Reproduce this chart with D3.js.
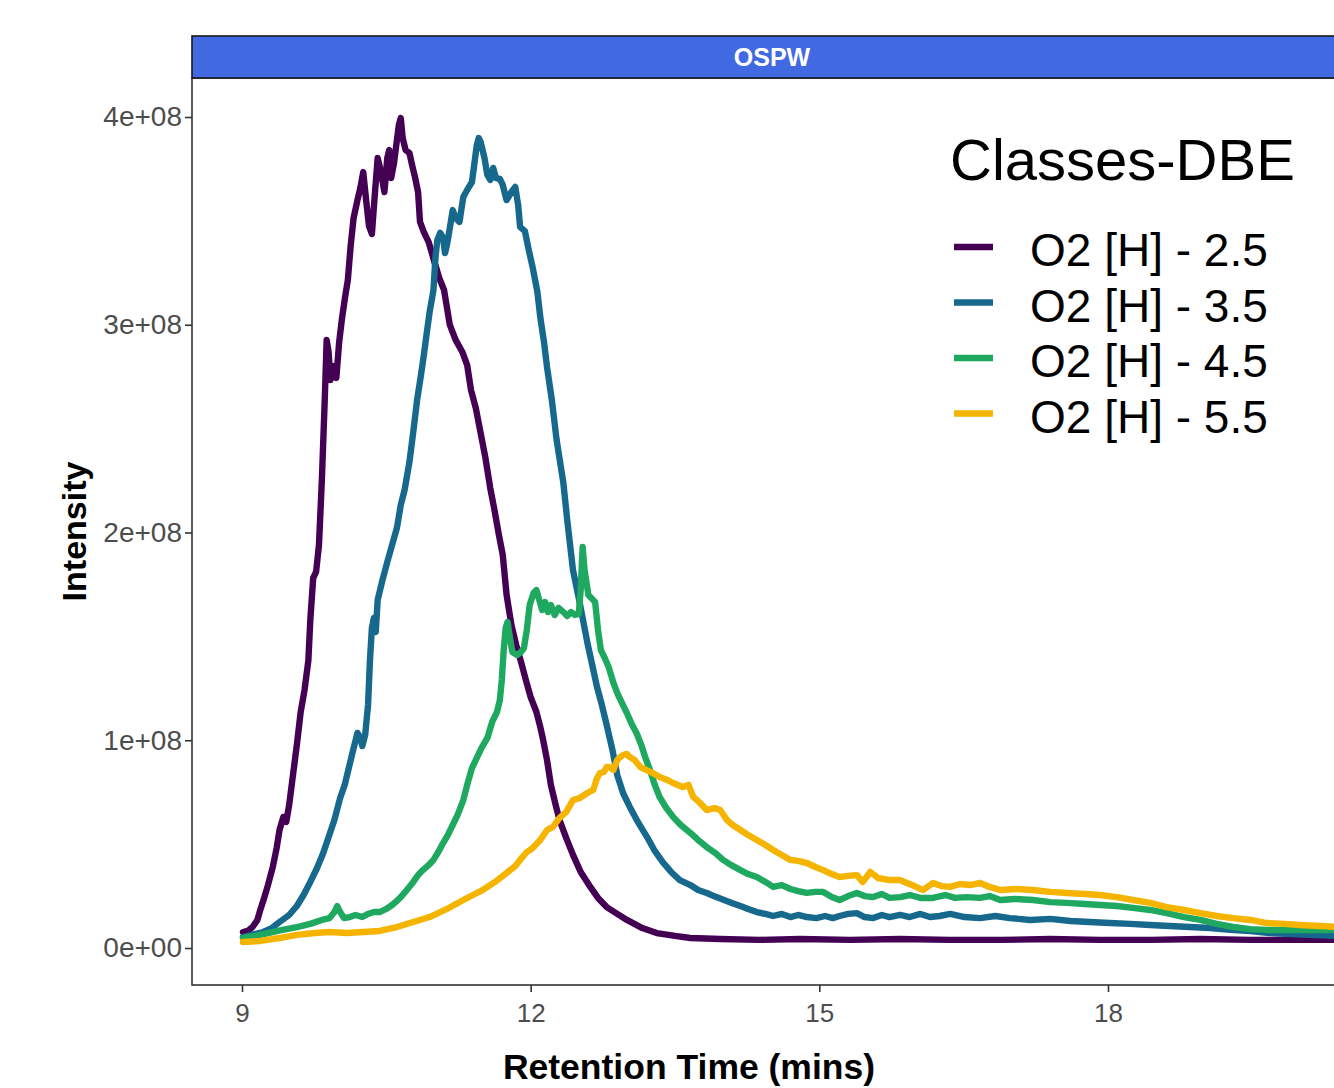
<!DOCTYPE html>
<html>
<head>
<meta charset="utf-8">
<title>OSPW – O2 classes by DBE</title>
<script src="https://cdn.jsdelivr.net/npm/d3@7/dist/d3.min.js"></script>
<style>
  html, body { margin: 0; padding: 0; background: #ffffff; }
  svg { display: block; font-family: "Liberation Sans", Arial, Helvetica, sans-serif; }
</style>
</head>
<body>
<svg id="chart" width="1334" height="1088"></svg>
<script>
// ---- data -------------------------------------------------------------
// Retention time (min) and intensity (in units of 1e8) for each O2 class.
const INTENSITY_UNIT = 1e8;

const seriesNames = ["O2 [H] - 2.5", "O2 [H] - 3.5", "O2 [H] - 4.5", "O2 [H] - 5.5"];
const seriesColors = ["#440154", "#16698C", "#1FA85F", "#F5B400"];

const time25 = [9.01,9.06,9.11,9.16,9.19,9.23,9.27,9.32,9.36,9.39,9.43,9.46,9.49,9.53,9.57,9.61,9.65,9.69,9.71,9.74,
  9.77,9.80,9.83,9.86,9.88,9.90,9.92,9.95,9.98,10.01,10.04,10.07,10.10,10.13,10.16,10.20,10.23,10.26,10.29,10.32,
  10.35,10.38,10.41,10.44,10.48,10.51,10.53,10.55,10.58,10.61,10.63,10.65,10.67,10.70,10.74,10.77,10.80,10.83,10.85,10.89,
  10.94,11.00,11.05,11.10,11.16,11.22,11.29,11.34,11.38,11.43,11.47,11.53,11.58,11.62,11.67,11.71,11.75,11.80,11.85,11.90,
  11.95,12.00,12.06,12.10,12.13,12.17,12.21,12.26,12.30,12.37,12.44,12.52,12.62,12.70,12.79,12.90,13.00,13.16,13.31,13.50,
  13.66,13.97,14.38,14.80,15.32,15.84,16.36,16.88,17.40,17.92,18.44,18.96,19.48,20.00,20.41];
const intensity25 = [0.077,0.082,0.101,0.135,0.183,0.241,0.303,0.390,0.481,0.568,0.631,0.607,0.688,0.833,0.977,1.136,1.242,1.386,1.579,1.781,
  1.810,1.940,2.253,2.638,2.927,2.869,2.734,2.801,2.744,2.917,3.033,3.129,3.215,3.384,3.514,3.600,3.658,3.735,3.600,3.475,
  3.437,3.625,3.803,3.745,3.639,3.803,3.841,3.706,3.779,3.889,3.961,3.995,3.899,3.841,3.827,3.764,3.706,3.639,3.495,3.446,
  3.398,3.302,3.225,3.167,2.999,2.927,2.869,2.806,2.686,2.599,2.503,2.359,2.214,2.118,1.988,1.892,1.699,1.555,1.458,1.377,
  1.290,1.208,1.136,1.064,1.001,0.905,0.785,0.688,0.616,0.529,0.448,0.366,0.294,0.241,0.197,0.164,0.135,0.096,0.072,0.058,
  0.048,0.043,0.039,0.043,0.039,0.043,0.039,0.039,0.043,0.039,0.039,0.043,0.039,0.039,0.039];

const time35 = [9.01,9.10,9.22,9.31,9.39,9.49,9.57,9.64,9.71,9.78,9.84,9.89,9.96,10.02,10.07,10.11,10.15,10.20,10.23,10.25,
  10.28,10.31,10.33,10.35,10.37,10.39,10.41,10.46,10.51,10.56,10.61,10.65,10.69,10.74,10.78,10.82,10.86,10.89,10.92,10.95,
  10.99,11.01,11.03,11.06,11.09,11.11,11.13,11.16,11.19,11.22,11.26,11.30,11.34,11.39,11.42,11.44,11.46,11.48,11.52,11.55,
  11.58,11.61,11.64,11.68,11.71,11.75,11.80,11.84,11.87,11.89,11.94,11.98,12.02,12.07,12.10,12.14,12.17,12.22,12.27,12.34,
  12.38,12.44,12.51,12.59,12.64,12.69,12.74,12.79,12.85,12.90,12.96,13.03,13.12,13.21,13.29,13.38,13.46,13.55,13.66,13.74,
  13.83,13.93,14.01,14.09,14.18,14.26,14.35,14.44,14.52,14.61,14.70,14.78,14.87,14.97,15.06,15.14,15.21,15.30,15.39,15.47,
  15.56,15.65,15.73,15.84,15.94,16.05,16.15,16.25,16.36,16.51,16.67,16.83,16.98,17.19,17.40,17.61,17.81,18.02,18.23,18.44,
  18.64,18.85,19.06,19.27,19.48,19.68,19.89,20.10,20.41];
const intensity35 = [0.053,0.063,0.077,0.096,0.125,0.159,0.202,0.255,0.318,0.385,0.452,0.520,0.616,0.722,0.789,0.866,0.943,1.035,1.011,0.972,
  1.025,1.170,1.386,1.540,1.588,1.521,1.675,1.771,1.858,1.940,2.022,2.132,2.205,2.339,2.484,2.638,2.758,2.854,2.960,3.061,
  3.167,3.321,3.408,3.442,3.418,3.345,3.384,3.466,3.552,3.514,3.495,3.615,3.649,3.687,3.793,3.865,3.899,3.880,3.803,3.721,
  3.697,3.755,3.706,3.702,3.673,3.600,3.639,3.663,3.576,3.471,3.451,3.360,3.278,3.158,3.037,2.912,2.797,2.638,2.445,2.238,
  2.060,1.819,1.661,1.468,1.362,1.256,1.170,1.073,0.953,0.833,0.746,0.679,0.602,0.534,0.467,0.409,0.366,0.327,0.303,0.279,
  0.265,0.245,0.231,0.217,0.202,0.188,0.173,0.164,0.154,0.164,0.149,0.159,0.149,0.144,0.154,0.144,0.154,0.164,0.168,0.149,
  0.144,0.159,0.149,0.159,0.149,0.164,0.149,0.154,0.164,0.149,0.144,0.154,0.144,0.135,0.140,0.130,0.125,0.120,0.116,0.111,
  0.106,0.101,0.096,0.087,0.082,0.072,0.067,0.063,0.058];

const time45 = [9.01,9.14,9.27,9.42,9.57,9.71,9.83,9.91,9.96,9.99,10.02,10.06,10.12,10.18,10.25,10.31,10.37,10.43,10.50,10.56,
  10.62,10.67,10.73,10.78,10.83,10.88,10.93,10.99,11.04,11.09,11.14,11.19,11.24,11.30,11.34,11.39,11.44,11.49,11.55,11.60,
  11.65,11.68,11.70,11.72,11.74,11.76,11.78,11.81,11.86,11.90,11.93,11.96,11.99,12.03,12.06,12.09,12.12,12.15,12.18,12.21,
  12.25,12.29,12.34,12.38,12.42,12.46,12.50,12.52,12.54,12.56,12.60,12.63,12.67,12.70,12.73,12.77,12.81,12.86,12.90,12.95,
  13.00,13.05,13.10,13.15,13.19,13.24,13.29,13.34,13.41,13.48,13.56,13.66,13.74,13.83,13.92,14.00,14.08,14.18,14.26,14.35,
  14.44,14.52,14.61,14.70,14.78,14.87,14.96,15.04,15.13,15.21,15.30,15.39,15.47,15.56,15.65,15.73,15.84,15.94,16.05,16.18,
  16.31,16.41,16.53,16.67,16.77,16.88,17.03,17.22,17.40,17.57,17.76,17.92,18.09,18.26,18.44,18.61,18.79,18.96,19.13,19.30,
  19.48,19.65,19.89,20.10,20.41];
const intensity45 = [0.048,0.058,0.072,0.087,0.101,0.116,0.135,0.144,0.173,0.202,0.173,0.144,0.149,0.159,0.149,0.164,0.173,0.173,0.188,0.207,
  0.231,0.255,0.289,0.318,0.351,0.375,0.395,0.424,0.462,0.505,0.544,0.592,0.640,0.712,0.785,0.866,0.915,0.963,1.011,1.088,
  1.136,1.194,1.290,1.434,1.540,1.569,1.506,1.425,1.410,1.425,1.444,1.531,1.651,1.709,1.723,1.675,1.627,1.665,1.617,1.651,
  1.603,1.637,1.617,1.598,1.617,1.603,1.608,1.723,1.930,1.819,1.699,1.685,1.665,1.531,1.434,1.396,1.353,1.276,1.227,1.179,
  1.131,1.078,1.035,0.977,0.919,0.857,0.785,0.727,0.674,0.631,0.592,0.554,0.520,0.486,0.457,0.424,0.400,0.375,0.356,0.342,
  0.318,0.294,0.303,0.284,0.274,0.265,0.270,0.270,0.245,0.231,0.250,0.265,0.250,0.245,0.260,0.241,0.245,0.255,0.241,0.241,
  0.255,0.241,0.245,0.241,0.250,0.231,0.236,0.231,0.221,0.217,0.212,0.207,0.202,0.193,0.183,0.168,0.149,0.135,0.116,0.101,
  0.091,0.087,0.087,0.087,0.087];

const time55 = [9.01,9.19,9.39,9.57,9.76,9.91,10.09,10.26,10.43,10.61,10.78,10.95,11.13,11.30,11.42,11.50,11.63,11.75,11.84,11.89,
  11.96,12.02,12.10,12.17,12.23,12.30,12.37,12.44,12.51,12.59,12.65,12.69,12.72,12.76,12.79,12.82,12.86,12.90,12.93,12.96,
  13.00,13.03,13.08,13.14,13.20,13.27,13.34,13.42,13.48,13.58,13.64,13.69,13.76,13.83,13.91,13.97,14.04,14.10,14.18,14.26,
  14.35,14.44,14.52,14.61,14.70,14.78,14.87,14.96,15.04,15.13,15.21,15.30,15.39,15.45,15.53,15.61,15.73,15.84,15.91,15.99,
  16.08,16.18,16.27,16.36,16.46,16.57,16.67,16.77,16.88,17.05,17.22,17.40,17.57,17.76,17.92,18.09,18.26,18.44,18.61,18.79,
  18.96,19.13,19.30,19.48,19.65,19.83,19.99,20.20,20.41];
const intensity55 = [0.029,0.034,0.048,0.063,0.072,0.077,0.072,0.077,0.082,0.101,0.125,0.149,0.188,0.231,0.260,0.279,0.318,0.361,0.395,0.424,
  0.462,0.481,0.520,0.568,0.582,0.626,0.655,0.712,0.722,0.746,0.761,0.818,0.842,0.847,0.871,0.871,0.857,0.905,0.919,0.929,
  0.934,0.919,0.905,0.871,0.857,0.842,0.823,0.809,0.794,0.775,0.785,0.727,0.698,0.664,0.674,0.664,0.616,0.592,0.568,0.544,
  0.520,0.496,0.472,0.448,0.424,0.419,0.409,0.390,0.375,0.356,0.342,0.347,0.351,0.318,0.366,0.337,0.327,0.327,0.313,0.298,
  0.279,0.313,0.298,0.294,0.308,0.303,0.313,0.294,0.279,0.284,0.279,0.270,0.265,0.260,0.255,0.245,0.231,0.217,0.197,0.183,
  0.168,0.154,0.144,0.135,0.120,0.116,0.111,0.106,0.101];

const seriesTimes = [time25, time35, time45, time55];
const seriesIntensities = [intensity25, intensity35, intensity45, intensity55];

const xTicks = [9, 12, 15, 18];
const yTicks = [0, 1e8, 2e8, 3e8, 4e8];
const yTickLabels = ["0e+00", "1e+08", "2e+08", "3e+08", "4e+08"];

const panelTitle = "OSPW";
const legendTitle = "Classes-DBE";
const xTitle = "Retention Time (mins)";
const yTitle = "Intensity";

// ---- layout -----------------------------------------------------------
const panel = { left: 192, right: 1352, top: 78, bottom: 985 };
const strip = { top: 36, bottom: 78 };

const svg = d3.select("#chart");

const x = d3.scaleLinear().domain([8.4804, 20.536]).range([panel.left, panel.right]);
const y = d3.scaleLinear().domain([-0.1781e8, 4.1877e8]).range([panel.bottom, panel.top]);

// panel background
svg.append("rect")
  .attr("x", panel.left).attr("y", panel.top)
  .attr("width", panel.right - panel.left).attr("height", panel.bottom - panel.top)
  .attr("fill", "#ffffff");

svg.append("clipPath").attr("id", "panel-clip")
  .append("rect")
  .attr("x", panel.left).attr("y", panel.top)
  .attr("width", panel.right - panel.left).attr("height", panel.bottom - panel.top);

// traces
const series = seriesNames.map((name, i) => ({
  name,
  color: seriesColors[i],
  points: seriesTimes[i].map((t, j) => ({ t, v: seriesIntensities[i][j] * INTENSITY_UNIT }))
}));

const line = d3.line().x(d => x(d.t)).y(d => y(d.v));

svg.append("g").attr("clip-path", "url(#panel-clip)")
  .selectAll("path")
  .data(series)
  .join("path")
  .attr("d", d => line(d.points))
  .attr("fill", "none")
  .attr("stroke", d => d.color)
  .attr("stroke-width", 6.4)
  .attr("stroke-linejoin", "round")
  .attr("stroke-linecap", "round");

// panel border
svg.append("rect")
  .attr("x", panel.left).attr("y", panel.top)
  .attr("width", panel.right - panel.left).attr("height", panel.bottom - panel.top)
  .attr("fill", "none").attr("stroke", "#333333").attr("stroke-width", 1.6);

// facet strip
svg.append("rect")
  .attr("x", panel.left).attr("y", strip.top)
  .attr("width", panel.right - panel.left).attr("height", strip.bottom - strip.top)
  .attr("fill", "#4169E1").attr("stroke", "#1a1a1a").attr("stroke-width", 1.6);
svg.append("text")
  .attr("x", (panel.left + panel.right) / 2).attr("y", (strip.top + strip.bottom) / 2)
  .attr("dy", "0.36em")
  .attr("text-anchor", "middle")
  .attr("fill", "#ffffff").attr("font-weight", "bold").attr("font-size", 25)
  .text(panelTitle);

// x axis
const xAxis = d3.axisBottom(x).tickValues(xTicks).tickSize(7).tickPadding(12).tickFormat(d3.format("d"));
const gx = svg.append("g").attr("transform", `translate(0,${panel.bottom})`).call(xAxis);
gx.select(".domain").remove();
gx.selectAll(".tick line").attr("stroke", "#333333").attr("stroke-width", 1.6);
gx.selectAll(".tick text").attr("fill", "#4d4d4d").attr("font-size", 26)
  .attr("font-family", "'Liberation Sans', Arial, sans-serif");

// y axis
const yAxis = d3.axisLeft(y).tickValues(yTicks).tickSize(7).tickPadding(3)
  .tickFormat((d, i) => yTickLabels[i]);
const gy = svg.append("g").attr("transform", `translate(${panel.left},0)`).call(yAxis);
gy.select(".domain").remove();
gy.selectAll(".tick line").attr("stroke", "#333333").attr("stroke-width", 1.6);
gy.selectAll(".tick text").attr("fill", "#4d4d4d").attr("font-size", 28)
  .attr("font-family", "'Liberation Sans', Arial, sans-serif");

// axis titles
svg.append("text")
  .attr("x", 689).attr("y", 1079)
  .attr("text-anchor", "middle").attr("font-weight", "bold").attr("font-size", 35.5)
  .attr("fill", "#000000")
  .text(xTitle);
svg.append("text")
  .attr("transform", `translate(86,${(panel.top + panel.bottom) / 2}) rotate(-90)`)
  .attr("text-anchor", "middle").attr("font-weight", "bold").attr("font-size", 34)
  .attr("fill", "#000000")
  .text(yTitle);

// legend
const legend = svg.append("g").attr("transform", "translate(950,0)");
legend.append("text")
  .attr("x", 0).attr("y", 180)
  .attr("font-size", 58).attr("fill", "#000000")
  .text(legendTitle);
const items = legend.selectAll("g.item").data(series).join("g")
  .attr("class", "item")
  .attr("transform", (d, i) => `translate(0,${247 + i * 55.5})`);
items.append("line")
  .attr("x1", 4).attr("x2", 43).attr("y1", 0).attr("y2", 0)
  .attr("stroke", d => d.color).attr("stroke-width", 6.5);
items.append("text")
  .attr("x", 80).attr("y", 0).attr("dy", "0.42em")
  .attr("font-size", 46).attr("fill", "#000000")
  .text(d => d.name);
</script>
</body>
</html>
